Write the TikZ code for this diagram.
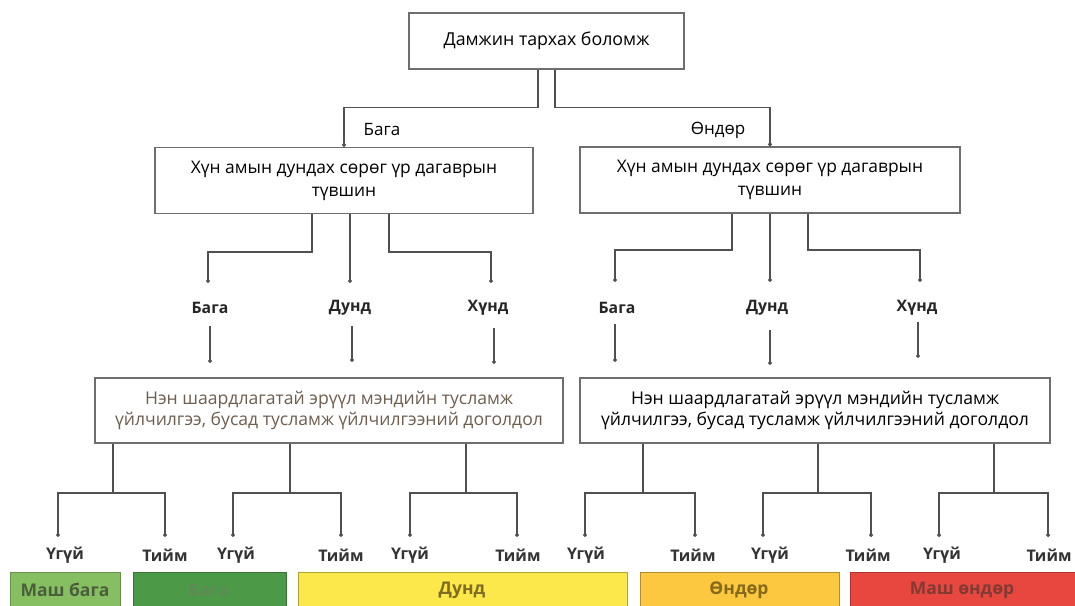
\documentclass[tikz,border=0pt]{standalone}
\usepackage{fontspec}
\setmainfont{Open Sans}
\usetikzlibrary{arrows.meta}
\definecolor{linec}{HTML}{505050}
\definecolor{boxc}{HTML}{6E6E6E}
\definecolor{brownt}{HTML}{6E5E4E}
\definecolor{vlowf}{HTML}{86BF62}
\definecolor{vlowt}{HTML}{4B5E3C}
\definecolor{lowf}{HTML}{4C9A47}
\definecolor{lowt}{HTML}{5E8A55}
\definecolor{midf}{HTML}{FDE84C}
\definecolor{midt}{HTML}{7D6C22}
\definecolor{highf}{HTML}{FBC83F}
\definecolor{hight}{HTML}{86691A}
\definecolor{vhighf}{HTML}{E8473F}
\definecolor{vhight}{HTML}{833A33}
\tikzset{
  box/.style={draw=boxc, line width=1.3pt, fill=white, align=center, inner sep=4pt},
  conn/.style={draw=linec, line width=1.1pt},
  dotted end/.style={conn, -{Circle[length=4pt,width=4pt]}},
  lvl/.style={font=\fontsize{15.8}{18}\selectfont\bfseries, text=black!85, inner sep=1pt},
  yn/.style={font=\fontsize{16}{18}\selectfont\bfseries, text=black!80, inner sep=1pt},
  bar/.style={line width=0.8pt, font=\fontsize{17.5}{20}\selectfont\bfseries},
}
\begin{document}
\begin{tikzpicture}[x=1pt,y=-1pt]
\clip (0,0) rectangle (1075,605);
\fill[white] (0,0) rectangle (1075,605);

% boxes
\node[box, minimum width=275pt, minimum height=56pt, font=\fontsize{17.8}{20}\selectfont] (top) at (546.5,41) {Дамжин тархах боломж};
\node[box, minimum width=378pt, minimum height=66pt, font=\fontsize{17.4}{23}\selectfont] (ml) at (344,180.5) {Хүн амын дундах сөрөг үр дагаврын\\ түвшин};
\node[box, minimum width=380pt, minimum height=66pt, font=\fontsize{17.4}{23}\selectfont] (mr) at (770,180) {Хүн амын дундах сөрөг үр дагаврын\\ түвшин};
\node[box, minimum width=468pt, minimum height=65pt, text=brownt, font=\fontsize{17.6}{20.5}\selectfont] (bl) at (329,410.5) {Нэн шаардлагатай эрүүл мэндийн тусламж\\ үйлчилгээ, бусад тусламж үйлчилгээний доголдол};
\node[box, minimum width=470pt, minimum height=65pt, font=\fontsize{17.6}{20.5}\selectfont] (br) at (815,410.5) {Нэн шаардлагатай эрүүл мэндийн тусламж\\ үйлчилгээ, бусад тусламж үйлчилгээний доголдол};

% top labels
\node[font=\fontsize{17}{20}\selectfont, inner sep=1pt] (lowlab) at (382,130) {Бага};
\node[font=\fontsize{17}{20}\selectfont, inner sep=1pt] (highlab) at (718,130) {Өндөр};

\draw[dotted end] ([xshift=-8.5pt]top.south) -- ++(0,38) -| (ml.north);
\draw[dotted end] ([xshift=8.5pt]top.south) -- ++(0,38) -| (mr.north);

% level labels
\node[lvl] (lA) at (210,308) {Бага};
\node[lvl] (mA) at (350,308) {Дунд};
\node[lvl] (hA) at (488,308) {Хүнд};
\node[lvl] (lB) at (617,308) {Бага};
\node[lvl] (mB) at (767,308) {Дунд};
\node[lvl] (hB) at (917,308) {Хүнд};

\coordinate (dlA) at (208,283);
\coordinate (dmA) at (350,283);
\coordinate (dhA) at (491,283);
\coordinate (dlB) at (615,282);
\coordinate (dmB) at (770,282);
\coordinate (dhB) at (920,282);

\draw[dotted end] (ml.south -| 312,0) -- (312,252) -| (dlA);
\draw[dotted end] (ml.south -| 350,0) -- (dmA);
\draw[dotted end] (ml.south -| 389,0) -- (389,252) -| (dhA);
\draw[dotted end] (mr.south -| 732,0) -- (732,250) -| (dlB);
\draw[dotted end] (mr.south -| 770,0) -- (dmB);
\draw[dotted end] (mr.south -| 808,0) -- (808,250) -| (dhB);

% stubs below level labels
\coordinate (slA) at (210,363);
\coordinate (smA) at (352,362);
\coordinate (shA) at (494,364);
\coordinate (slB) at (615,362);
\coordinate (smB) at (770,365);
\coordinate (shB) at (918,358);
\draw[dotted end] (lA.south -| slA) ++(0,11) -- (slA);
\draw[dotted end] (mA.south -| smA) ++(0,9) -- (smA);
\draw[dotted end] (hA.south -| shA) ++(0,11) -- (shA);
\draw[dotted end] (lB.south -| slB) ++(0,9) -- (slB);
\draw[dotted end] (mB.south -| smB) ++(0,13) -- (smB);
\draw[dotted end] (hB.south -| shB) ++(0,5) -- (shB);

% yes / no labels
\node[yn] (u1) at (65,555) {Үгүй};
\node[yn] (t1) at (165,555) {Тийм};
\node[yn] (u2) at (236,555) {Үгүй};
\node[yn] (t2) at (341,555) {Тийм};
\node[yn] (u3) at (410,555) {Үгүй};
\node[yn] (t3) at (518,555) {Тийм};
\node[yn] (u4) at (586,555) {Үгүй};
\node[yn] (t4) at (693,555) {Тийм};
\node[yn] (u5) at (770,555) {Үгүй};
\node[yn] (t5) at (868,555) {Тийм};
\node[yn] (u6) at (942,555) {Үгүй};
\node[yn] (t6) at (1049,555) {Тийм};

\foreach \j/\bx/\a/\b/\u in {1/bl/113/58/165, 2/bl/290/233/341, 3/bl/466/410/517, 4/br/643/585/695, 5/br/818/763/871, 6/br/994/939/1048}{
  \coordinate (j\j) at (\a,493);
  \coordinate (dn\j) at (\b,537);
  \coordinate (dy\j) at (\u,537);
  \draw[conn] (\bx.south -| j\j) -- (j\j);
  \draw[dotted end] (j\j) -| (dn\j);
  \draw[dotted end] (j\j) -| (dy\j);
}

% risk bars
\node[bar, draw=vlowf!75!black, fill=vlowf, minimum width=110pt, minimum height=38pt, anchor=north west] (b1) at (10,572) {};
\node[bar, text=vlowt] (t1b) at (65,590) {Маш бага};
\node[bar, draw=lowf!75!black, fill=lowf, minimum width=153pt, minimum height=38pt, anchor=north west] (b2) at (133,572) {};
\node[bar, text=lowt] (t2b) at (209,590) {Бага};
\node[bar, draw=midf!70!black, fill=midf, minimum width=329pt, minimum height=38pt, anchor=north west] (b3) at (298,572) {};
\node[bar, text=midt] (t3b) at (462,590) {Дунд};
\node[bar, draw=highf!70!black, fill=highf, minimum width=199pt, minimum height=38pt, anchor=north west] (b4) at (640,572) {};
\node[bar, text=hight] (t4b) at (739,590) {Өндөр};
\node[bar, draw=vhighf!75!black, fill=vhighf, minimum width=230pt, minimum height=38pt, anchor=north west] (b5) at (850,572) {};
\node[bar, text=vhight] (t5b) at (962,590) {Маш өндөр};
\end{tikzpicture}
\end{document}
